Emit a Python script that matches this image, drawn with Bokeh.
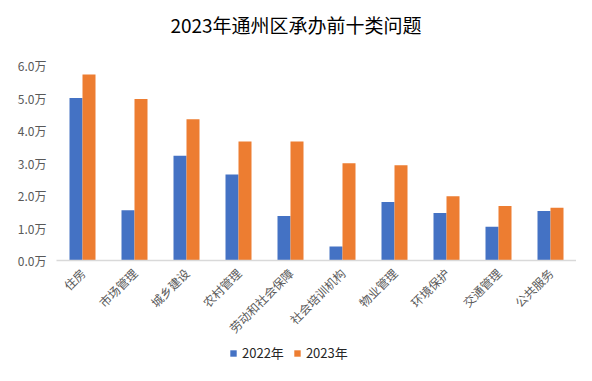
import math
from bokeh.plotting import figure
from bokeh.layouts import column
from bokeh.models import (FactorRange, Range1d, Legend, LegendItem, ColumnDataSource,
                          FixedTicker, Label)
from bokeh.transform import dodge
from bokeh.embed import file_html
from bokeh.resources import INLINE

categories = ["住房", "市场管理", "城乡建设", "农村管理", "劳动和社会保障",
              "社会培训机构", "物业管理", "环境保护", "交通管理", "公共服务"]
v2022 = [5.0, 1.55, 3.22, 2.65, 1.37, 0.43, 1.80, 1.46, 1.04, 1.52]
v2023 = [5.72, 4.97, 4.35, 3.66, 3.66, 2.99, 2.93, 1.98, 1.68, 1.62]
series_names = ["2022年", "2023年"]
series_colors = ["#4472C4", "#ED7D31"]
y_ticks = [0, 1, 2, 3, 4, 5, 6]
y_tick_labels = ["0.0万", "1.0万", "2.0万", "3.0万", "4.0万", "5.0万", "6.0万"]
title_text = "2023年通州区承办前十类问题"

CJK = "Noto Sans CJK SC"
W = 576
BL, BR = 56, 0

src = ColumnDataSource(dict(cat=categories, a=v2022, b=v2023))
xr = FactorRange(*categories, range_padding=0)

# ---- title strip
ts = figure(width=W, height=40, output_backend="svg", toolbar_location=None,
            x_range=Range1d(0, 1), y_range=Range1d(0, 1),
            min_border_left=BL, min_border_right=BR, min_border_top=0, min_border_bottom=0)
ts.outline_line_color = None
ts.axis.visible = False
ts.grid.visible = False
ts.add_layout(Label(x=0.219, y=0.4, text=title_text, text_font=CJK, text_font_size="19px",
                    text_color="#000000", text_align="left", text_baseline="middle"))

# ---- main chart
p = figure(width=W, height=304, output_backend="svg", toolbar_location=None,
           x_range=xr, y_range=Range1d(0, 6),
           min_border_left=BL, min_border_right=BR, min_border_top=25, min_border_bottom=82)
p.outline_line_color = None
p.grid.visible = False

p.vbar(x=dodge("cat", -0.125, range=xr), top="a", width=0.25, source=src,
       color=series_colors[0], line_color=None)
p.vbar(x=dodge("cat", 0.125, range=xr), top="b", width=0.25, source=src,
       color=series_colors[1], line_color=None)

p.yaxis.ticker = FixedTicker(ticks=y_ticks)
p.yaxis.major_label_overrides = {t: l for t, l in zip(y_ticks, y_tick_labels)}
p.yaxis.axis_line_color = None
p.yaxis.major_tick_line_color = None
p.yaxis.minor_tick_line_color = None
p.yaxis.major_label_text_font = CJK
p.yaxis.major_label_text_font_size = "12px"
p.yaxis.major_label_text_color = "#595959"
p.yaxis.major_label_standoff = 4

p.xaxis.axis_line_color = "#D9D9D9"
p.xaxis.axis_line_width = 1.5
p.xaxis.major_tick_line_color = None
p.xaxis.minor_tick_line_color = None
p.xaxis.major_label_orientation = math.pi / 4
p.xaxis.major_label_text_font = CJK
p.xaxis.major_label_text_font_size = "12px"
p.xaxis.major_label_text_color = "#595959"
p.xaxis.major_label_standoff = 4

# ---- legend strip (same series, drawn outside its visible y-window)
lg = figure(width=W, height=21, output_backend="svg", toolbar_location=None,
            x_range=xr, y_range=Range1d(100, 101),
            min_border_left=BL, min_border_right=BR, min_border_top=0, min_border_bottom=0)
lg.outline_line_color = None
lg.axis.visible = False
lg.grid.visible = False
d1 = lg.vbar(x=dodge("cat", -0.125, range=xr), top="a", width=0.25, source=src,
             color=series_colors[0], line_color=None)
d2 = lg.vbar(x=dodge("cat", 0.125, range=xr), top="b", width=0.25, source=src,
             color=series_colors[1], line_color=None)
legend = Legend(items=[LegendItem(label=series_names[0], renderers=[d1]),
                       LegendItem(label=series_names[1], renderers=[d2])],
                orientation="horizontal", location=(173, 3),
                label_text_font=CJK, label_text_font_size="13px", label_text_color="#262626",
                glyph_width=8, glyph_height=8, spacing=9, label_standoff=5,
                label_height=14, label_width=10,
                border_line_color=None, background_fill_alpha=0, padding=0, margin=0)
lg.add_layout(legend, "center")

open("out.html", "w").write(file_html(column(ts, p, lg, spacing=0), INLINE))
